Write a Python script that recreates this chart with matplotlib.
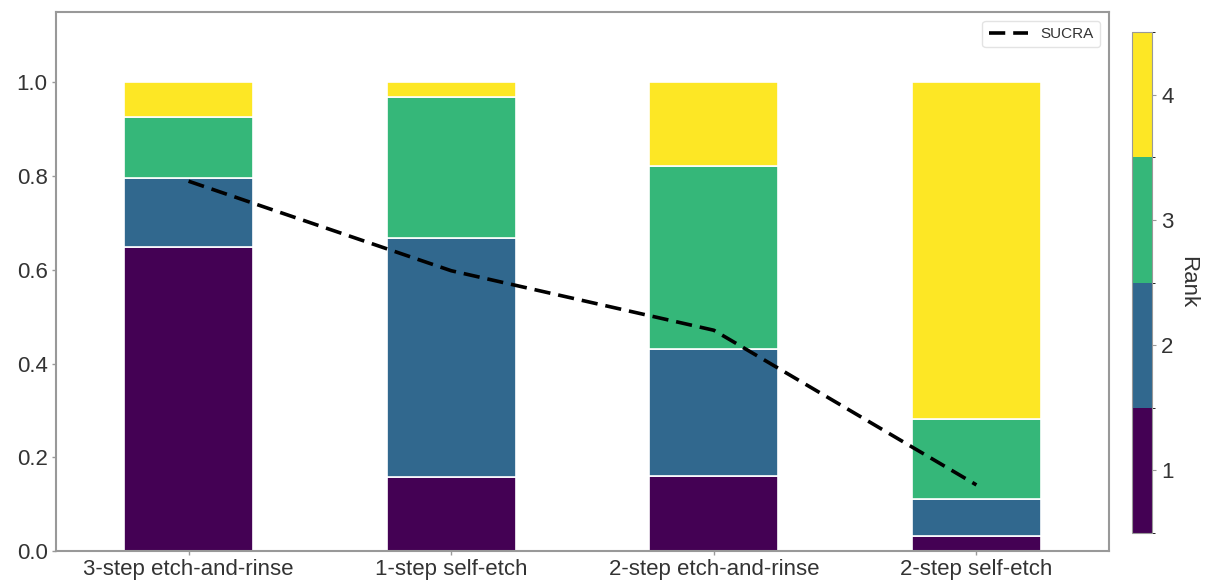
import numpy as np
import matplotlib
matplotlib.use("Agg")
import matplotlib.pyplot as plt
from matplotlib.colors import ListedColormap, BoundaryNorm
from matplotlib.cm import ScalarMappable

plt.rcParams['font.family'] = ['Liberation Sans', 'DejaVu Sans']

treatments = ["3-step etch-and-rinse", "1-step self-etch", "2-step etch-and-rinse", "2-step self-etch"]
rank1 = [0.648, 0.158, 0.159, 0.031]
rank2 = [0.147, 0.509, 0.272, 0.079]
rank3 = [0.130, 0.302, 0.391, 0.172]
rank4 = [0.075, 0.031, 0.178, 0.718]
sucra = [0.789, 0.598, 0.471, 0.141]
rank_labels = [1, 2, 3, 4]

colors = [plt.cm.viridis(v) for v in np.linspace(0, 1, 4)]
gray = '#999999'
text_col = '#333333'

fig = plt.figure(figsize=(12.11, 5.85), dpi=100)
ax = fig.add_axes([0.0462, 0.0581, 0.8696, 0.9214])

x = np.arange(len(treatments))
bottom = np.zeros(len(treatments))
for vals, c in zip([rank1, rank2, rank3, rank4], colors):
    ax.bar(x, vals, width=0.49, bottom=bottom, color=c, edgecolor='white', linewidth=1.2)
    bottom += np.array(vals)

ax.plot(x, sucra, linestyle='--', color='black', linewidth=2.6, dashes=(4.5, 2.2), label='SUCRA')

ax.set_xlim(-0.505, 3.505)
ax.set_ylim(0, 1.15)
ax.set_xticks(x)
ax.set_xticklabels(treatments, fontsize=16, color=text_col)
ax.set_yticks([0.0, 0.2, 0.4, 0.6, 0.8, 1.0])
ax.set_yticklabels(['0.0', '0.2', '0.4', '0.6', '0.8', '1.0'], fontsize=16, color=text_col)
ax.tick_params(axis='both', colors=gray, labelcolor=text_col, length=3, width=1, pad=3)
for s in ax.spines.values():
    s.set_color(gray)
    s.set_linewidth(1.5)

leg = ax.legend(loc='upper right', fontsize=11, frameon=True, handlelength=2.6,
                borderpad=0.4, labelcolor=text_col, borderaxespad=0.6)
leg.get_frame().set_edgecolor('#dddddd')

cax = fig.add_axes([0.9348, 0.089, 0.0165, 0.856])
cmap = ListedColormap(colors)
norm = BoundaryNorm([0.5, 1.5, 2.5, 3.5, 4.5], cmap.N)
sm = ScalarMappable(norm=norm, cmap=cmap)
cb = fig.colorbar(sm, cax=cax, ticks=rank_labels)
cb.ax.set_yticklabels([str(r) for r in rank_labels], fontsize=16, color=text_col)
cb.ax.tick_params(colors=gray, labelcolor=text_col, length=3)
cb.outline.set_edgecolor(gray)
cb.set_label('Rank', rotation=270, fontsize=16, color=text_col, labelpad=18)

fig.savefig('out.png', dpi=100)
